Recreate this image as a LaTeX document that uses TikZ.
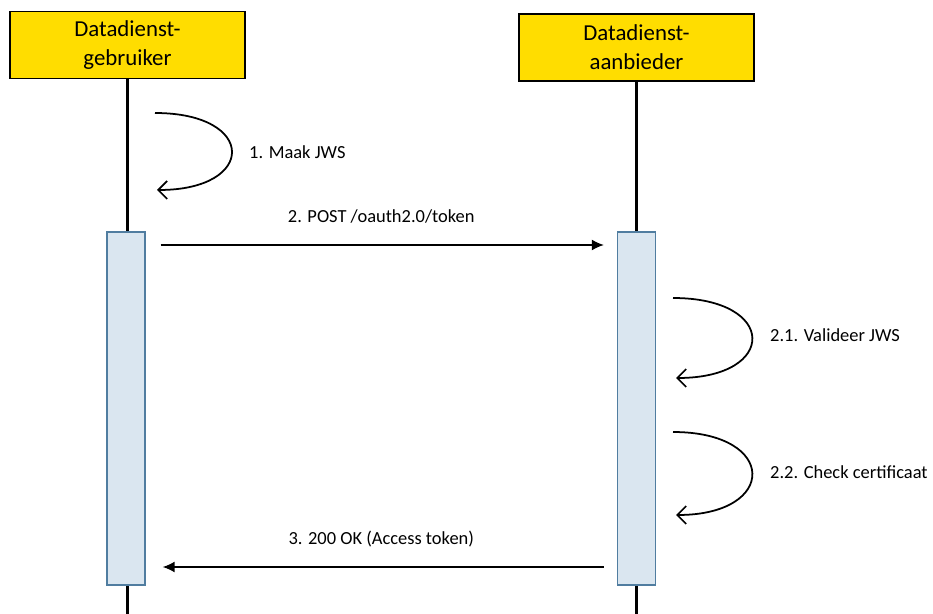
\documentclass[tikz,border=0pt]{standalone}
\usepackage{fontspec}
\setmainfont{Carlito}
\usetikzlibrary{arrows.meta, positioning}
\definecolor{actoryellow}{RGB}{255,221,0}
\definecolor{actfill}{RGB}{218,230,240}
\definecolor{actdraw}{RGB}{80,125,160}
\tikzset{
  actor/.style={draw, fill=actoryellow, line width=0.9pt, minimum width=4.7cm,
                minimum height=1.34cm, font=\fontsize{13}{16.5}\selectfont, align=center},
  activation/.style={draw=actdraw, fill=actfill, line width=0.8pt,
                     minimum width=0.76cm, minimum height=7.06cm},
  lifeline/.style={line width=1.7pt},
  msg/.style={-{Latex[length=2.4mm,width=2.2mm]}, thick},
  selfmsg/.style={-{Straight Barb[length=1.8mm,width=3.6mm]}, line width=1pt},
  msglabel/.style={font=\fontsize{10.5}{12}\selectfont},
}

\begin{document}
\begin{tikzpicture}[x=0.02cm, y=-0.02cm]
  \useasboundingbox (0,0) rectangle (933,614);
  \coordinate (bottom) at (0,614);

  % actors and lifelines
  \node[actor] (gebruiker) at (127.5,45) {Datadienst-\\gebruiker};
  \node[actor] (aanbieder) at (636.5,47.5) {Datadienst-\\aanbieder};
  \draw[lifeline] (gebruiker.south) -- (gebruiker.south |- bottom);
  \draw[lifeline] (aanbieder.south) -- (aanbieder.south |- bottom);

  \node[activation] (actL) at (126,408.5) {};
  \node[activation] (actR) at (636.5,408.5) {};

  % self messages
  \coordinate (s1a) at (155,113);
  \coordinate (s1b) at (157,190);
  \draw[selfmsg] (s1a) .. controls (257,113) and (257,190) .. (s1b);
  \node[msglabel, anchor=west] (lbl1) at (243,152) {1. Maak JWS};

  \coordinate (s21a) at (673,298);
  \coordinate (s21b) at (676,378);
  \draw[selfmsg] (s21a) .. controls (778,298) and (778,378) .. (s21b);
  \node[msglabel, anchor=west] (lbl21) at (764,335) {2.1. Valideer JWS};

  \coordinate (s22a) at (673,432);
  \coordinate (s22b) at (676,515);
  \draw[selfmsg] (s22a) .. controls (778,432) and (778,515) .. (s22b);
  \node[msglabel, anchor=west] (lbl22) at (764,472) {2.2. Check certificaat};

  % messages between the two
  \coordinate (y2) at (0,245);
  \coordinate (y3) at (0,567);
  \draw[msg, shorten <=0.3cm, shorten >=0.26cm] (actL.east |- y2) -- node[msglabel, above=0.3cm] {2. POST /oauth2.0/token} (actR.west |- y2);
  \draw[msg, shorten <=0.26cm, shorten >=0.34cm] (actR.west |- y3) -- node[msglabel, above=0.27cm] {3. 200 OK (Access token)} (actL.east |- y3);
\end{tikzpicture}
\end{document}
